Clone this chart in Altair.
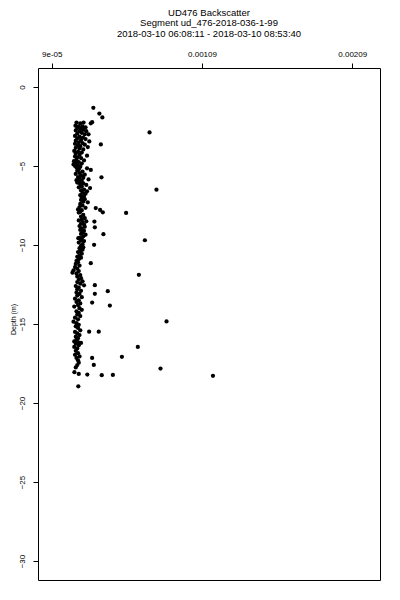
import altair as alt
import pandas as pd

# Backscatter values are stored in units of 1e-5
cluster_depth = [
    -2.25, -2.3, -2.25, -2.3, -2.45, -2.5, -2.5, -2.55, -2.6, -2.65, -2.7, -2.75, -2.8, -2.8, -2.9, -2.95, -3.0, -3.0,
    -3.1, -3.15, -3.2, -3.25, -3.3, -3.35, -3.4, -3.45, -3.5, -3.55, -3.6, -3.65, -3.7, -3.75, -3.8, -3.85, -3.9, -3.95,
    -4.05, -4.1, -4.15, -4.2, -4.3, -4.35, -4.4, -4.45, -4.5, -4.6, -4.65, -4.7, -4.75, -4.8, -4.85, -4.9, -4.95, -5.0,
    -5.05, -5.1, -5.15, -5.2, -5.25, -5.3, -5.35, -5.45, -5.5, -5.55, -5.6, -5.7, -5.75, -5.8, -5.85, -5.9, -5.95, -6.0,
    -6.05, -6.1, -6.15, -6.2, -6.3, -6.35, -6.4, -6.5, -6.55, -6.6, -6.7, -6.75, -6.85, -6.9, -7.0,
    -7.1, -7.15, -7.25, -7.3, -7.4, -7.5, -7.6, -7.65, -7.75, -7.8, -7.9, -7.95,
    -8.1, -8.2, -8.3, -8.4, -8.45, -8.5, -8.55, -8.65, -8.7, -8.8, -8.85, -8.95,
    -9.05, -9.1, -9.2, -9.3, -9.35, -9.45, -9.55, -9.6, -9.7, -9.75, -9.85, -9.95,
    -10.05, -10.15, -10.2, -10.3, -10.4, -10.45, -10.55, -10.65, -10.75, -10.8, -10.9,
    -11.0, -11.1, -11.2, -11.3, -11.4, -11.5, -11.6, -11.65, -11.75, -11.8, -11.9,
    -12.0, -12.1, -12.2, -12.3, -12.35, -12.45, -12.55, -12.6, -12.7, -12.8, -12.9,
    -13.0, -13.1, -13.2, -13.3, -13.4, -13.5, -13.6, -13.7, -13.8, -13.9,
    -14.0, -14.1, -14.2, -14.3, -14.4, -14.5, -14.6, -14.7, -14.85, -14.95,
    -15.05, -15.15, -15.25, -15.4, -15.5, -15.6, -15.7, -15.8, -15.9,
    -16.0, -16.1, -16.15, -16.2, -16.25, -16.35, -16.45, -16.55, -16.7, -16.85, -16.95,
    -17.05, -17.15, -17.3, -17.45, -17.6, -17.75,
]
cluster_bs = [
    25.5, 28.0, 30.2, 35.0, 24.8, 27.0, 29.5, 31.5, 26.0, 28.5, 30.0, 25.0, 27.5, 32.0, 29.0, 26.0, 31.0, 33.5,
    24.5, 27.5, 29.8, 26.0, 31.5, 28.5, 25.0, 34.0, 27.0, 29.5, 24.5, 31.0, 26.5, 28.0, 33.0, 25.0, 27.5, 30.0,
    24.0, 26.5, 29.0, 25.0, 27.5, 32.5, 24.5, 26.0, 28.5, 25.5, 30.5, 23.8, 27.0, 25.0, 29.0, 23.5, 26.5, 24.5,
    28.0, 25.5, 32.5, 27.0, 35.0, 26.0, 29.5, 27.5, 25.0, 31.0, 28.5, 26.5, 30.0, 27.5, 33.5, 25.5, 29.0, 27.0,
    26.0, 30.0, 28.0, 32.0, 29.0, 27.0, 34.5, 30.5, 28.5, 32.5, 29.5, 31.5, 28.0, 30.5, 29.0,
    31.0, 28.5, 30.0, 33.0, 28.0, 29.5, 27.5, 31.5, 26.5, 29.0, 28.0, 27.0,
    30.0, 28.5, 31.0, 29.0, 27.0, 32.0, 29.5, 28.5, 30.5, 27.5, 31.0, 29.0,
    28.0, 30.5, 29.5, 28.5, 31.5, 30.0, 27.5, 29.0, 28.5, 30.5, 27.0, 29.5,
    28.5, 30.0, 27.5, 29.5, 28.0, 26.5, 29.0, 27.5, 26.0, 28.5, 27.0,
    25.5, 26.5, 25.0, 27.5, 24.5, 26.0, 23.5, 27.0, 22.8, 25.5, 28.0,
    26.0, 28.5, 27.0, 29.5, 26.0, 28.0, 30.5, 25.0, 27.0, 26.0, 28.5,
    25.5, 27.5, 26.0, 29.0, 24.5, 27.0, 25.5, 28.0, 26.5, 24.0,
    27.5, 29.0, 25.5, 27.0, 26.0, 28.0, 24.5, 26.5, 23.5, 25.5,
    27.0, 25.0, 26.5, 28.0, 24.5, 26.0, 27.5, 25.0, 26.5,
    25.5, 24.0, 26.5, 28.5, 25.0, 27.0, 24.0, 26.0, 25.0, 26.5, 24.5,
    27.5, 25.5, 26.5, 27.0, 26.0, 25.0,
]
outlier_depth = [
    -1.32, -1.68, -1.93, -2.23, -2.88, -3.64, -5.72, -6.5, -7.66, -7.78, -7.93, -7.97,
    -8.52, -8.88, -9.32, -9.57, -9.7, -9.99, -11.15, -11.89, -12.54, -12.92, -13.09,
    -13.64, -13.83, -14.84, -15.49, -15.49, -16.45, -17.08, -17.15, -17.59, -17.82,
    -18.05, -18.16, -18.2, -18.24, -18.22, -18.28, -18.94,
]
outlier_bs = [
    36.7, 40.7, 42.7, 35.9, 74.1, 41.7, 42.1, 78.7, 38.3, 41.2, 43.0, 58.5,
    37.4, 37.7, 43.4, 26.7, 71.0, 37.2, 35.0, 67.0, 37.7, 46.3, 37.7,
    35.9, 47.7, 85.4, 33.9, 40.3, 66.3, 55.7, 35.9, 37.0, 81.4,
    24.1, 27.0, 32.7, 42.3, 49.7, 116.3, 26.7,
]

x_ticks = [9e-05, 0.00109, 0.00209]
y_ticks = [0, -5, -10, -15, -20, -25, -30]
title_lines = [
    "UD476 Backscatter",
    "Segment ud_476-2018-036-1-99",
    "2018-03-10 06:08:11 - 2018-03-10 08:53:40",
]

df = pd.DataFrame({
    "depth": cluster_depth + outlier_depth,
    "bs": [v * 1e-5 for v in cluster_bs + outlier_bs],
})

FONT = "Liberation Sans"

chart = alt.Chart(df).mark_circle(color="black", opacity=1, size=18).encode(
    x=alt.X(
        "bs:Q",
        scale=alt.Scale(domain=[-0.0000013, 0.0022747], nice=False, zero=False),
        axis=alt.Axis(
            orient="top", values=x_ticks, title=None, grid=False, domain=False,
            tickSize=5, tickColor="black", labelPadding=5,
            labelExpr="datum.value < 0.0001 ? '9e-05' : format(datum.value, '.5f')",
            labelFont=FONT, labelFontSize=8, labelColor="black",
        ),
    ),
    y=alt.Y(
        "depth:Q",
        scale=alt.Scale(domain=[-31.2, 1.2], nice=False, zero=False),
        axis=alt.Axis(
            orient="left", values=y_ticks, title="Depth (m)", grid=False, domain=False,
            tickSize=5, tickColor="black", labelPadding=7,
            labelAngle=270, labelAlign="center", labelBaseline="bottom",
            labelFont=FONT, labelFontSize=8, labelColor="black",
            titleFont=FONT, titleFontSize=7, titleFontWeight="normal", titleColor="black",
            titleAngle=270, titleX=-25, titleY=251, titleAlign="center", titleBaseline="middle",
        ),
    ),
).properties(
    width=342,
    height=512,
    autosize=alt.AutoSizeParams(type="none"),
    padding={"left": 30, "top": 60, "right": 12, "bottom": 12},
    title=alt.TitleParams(
        text=title_lines, anchor="middle", font=FONT, fontSize=9.5,
        fontWeight="normal", color="black", lineHeight=10.5, offset=12,
    ),
).configure_view(stroke="black", strokeWidth=1)

chart.save("out.html", embed_options={"renderer": "svg", "actions": False})
